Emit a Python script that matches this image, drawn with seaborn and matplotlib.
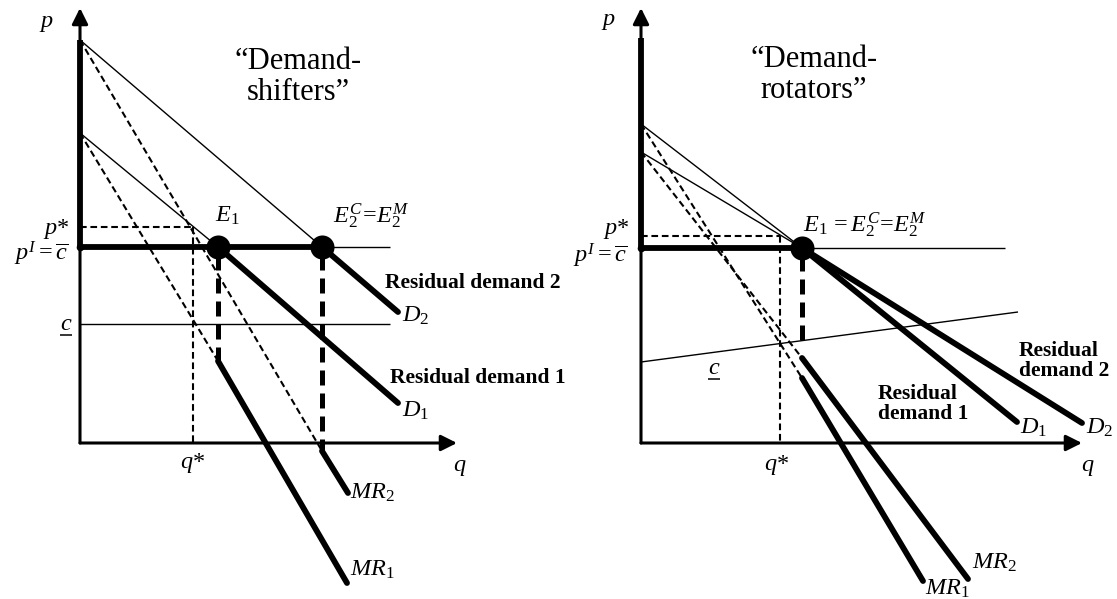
import matplotlib
matplotlib.use("Agg")
import matplotlib.pyplot as plt
import seaborn as sns

# all values in diagram units, q to the right and p upward from the axes corner

# left panel: "Demand-shifters"
sh_pbar = 196
sh_top = [403, 310]            # p-axis intercepts of D2, D1
sh_E = [242, 138]              # q of E2, E1 on the p-bar line
sh_D_end_q = [318, 318]
sh_D_end_p = [131, 40]
sh_MR_kink = [-8, 82]          # p where the solid MR starts
sh_MR_end_q = [268, 267]
sh_MR_end_p = [-50, -140]
sh_pstar, sh_qstar = 216, 113
sh_clow = 119
sh_line_end = 310
sh_qmax, sh_pmax = 377, 435

# right panel: "Demand-rotators"
ro_pbar = 195
ro_top = [319, 291]            # D1, D2
ro_E = 161
ro_D_end_q = [376, 441]
ro_D_end_p = [21, 20]
ro_MR_kink = [65, 85]
ro_MR_end_q = [282, 327]
ro_MR_end_p = [-138, -136]
ro_pstar, ro_qstar = 207, 139
ro_clow_q = [0, 377]
ro_clow_p = [81, 131]
ro_line_end = 364
ro_qmax, ro_pmax = 441, 435

sns.set_theme(style="white")
plt.rcParams["font.family"] = ["Liberation Serif", "DejaVu Serif"]
plt.rcParams["mathtext.fontset"] = "custom"
plt.rcParams["mathtext.rm"] = "Liberation Serif"
plt.rcParams["mathtext.it"] = "Liberation Serif:italic"
plt.rcParams["mathtext.bf"] = "Liberation Serif:bold"

THIN_DASH = (0, (3.2, 1.8))
THICK_DASH = (0, (3.0, 1.6))
THICK = 4.2
FS = 17.5


def seg(ax, q, p, lw=1.0, ls="-", cap="butt"):
    sns.lineplot(x=q, y=p, ax=ax, color="black", linewidth=lw, linestyle=ls,
                 sort=False, estimator=None, solid_capstyle=cap, dash_capstyle="butt")


def arrow(ax, tip):
    ax.annotate("", xy=tip, xytext=(0, 0),
                arrowprops=dict(arrowstyle="-|>", color="black", lw=2.2,
                                mutation_scale=24, shrinkA=0, shrinkB=0))


def lab(ax, q, p, s, ha="left", size=FS, **kw):
    ax.text(q, p, s, ha=ha, va="center", fontsize=size, color="black", **kw)


def under_c(ax, q, p):
    lab(ax, q, p, "$c$", ha="center")
    seg(ax, [q - 6, q + 6], [p - 11, p - 11], lw=1.1)


fig = plt.figure(figsize=(11.17, 5.99), dpi=100)
axL = fig.add_axes([0, 0, 560 / 1117, 1])
axR = fig.add_axes([560 / 1117, 0, 557 / 1117, 1])

# ---------------- left ----------------
ax = axL
arrow(ax, (0, sh_pmax))
arrow(ax, (sh_qmax, 0))
seg(ax, [0, 0], [sh_pbar, sh_top[0]], lw=THICK)
seg(ax, [0, sh_line_end], [sh_pbar, sh_pbar], lw=1.0)
seg(ax, [0, sh_E[0]], [sh_pbar, sh_pbar], lw=THICK)
seg(ax, [0, sh_line_end], [sh_clow, sh_clow], lw=1.0)
seg(ax, [0, sh_qstar], [sh_pstar, sh_pstar], lw=1.5, ls=THIN_DASH)
seg(ax, [sh_qstar, sh_qstar], [sh_pstar, 0], lw=1.5, ls=THIN_DASH)
for i in range(2):
    seg(ax, [0, sh_E[i]], [sh_top[i], sh_pbar], lw=1.0)
    seg(ax, [sh_E[i], sh_D_end_q[i]], [sh_pbar, sh_D_end_p[i]], lw=THICK, cap="round")
    seg(ax, [0, sh_E[i]], [sh_top[i], sh_MR_kink[i]], lw=1.5, ls=THIN_DASH)
    seg(ax, [sh_E[i], sh_E[i]], [sh_pbar - 8, sh_MR_kink[i]], lw=3.6, ls=THICK_DASH)
    seg(ax, [sh_E[i], sh_MR_end_q[i]], [sh_MR_kink[i], sh_MR_end_p[i]], lw=THICK, cap="round")
sns.scatterplot(x=sh_E, y=[sh_pbar] * 2, ax=ax, s=300, color="black", linewidth=0, zorder=5)
sns.scatterplot(x=[0], y=[sh_pbar], ax=ax, s=30, color="black", linewidth=0, zorder=5)

lab(ax, -34, 420, "$p$", ha="center")
lab(ax, 380, -25, "$q$", ha="center")
lab(ax, 113, -20, "$q$*", ha="center")
lab(ax, -24, 214, "$p$*", ha="center")
lab(ax, -12, 189, r"$p^I = \overline{c}$", ha="right")
under_c(ax, -14, 119)
lab(ax, 135, 227, "$E_1$")
lab(ax, 253, 227, r"$E_2^C\!=\!E_2^M$")
lab(ax, 305, 160, "Residual demand 2", size=15.5, fontweight="bold")
lab(ax, 310, 65, "Residual demand 1", size=15.5, fontweight="bold")
lab(ax, 322, 127, "$D_2$")
lab(ax, 322, 32, "$D_1$")
lab(ax, 270, -50, "$MR_2$")
lab(ax, 270, -127, "$MR_1$")
lab(ax, 218, 366, "\u201cDemand-\nshifters\u201d", ha="center", size=22, linespacing=1.1)

# ---------------- right ----------------
ax = axR
arrow(ax, (0, ro_pmax))
arrow(ax, (ro_qmax, 0))
seg(ax, [0, 0], [ro_pbar, 405], lw=THICK)
seg(ax, [0, ro_line_end], [ro_pbar, ro_pbar], lw=1.0)
seg(ax, [0, ro_E], [ro_pbar, ro_pbar], lw=THICK)
seg(ax, ro_clow_q, ro_clow_p, lw=1.0)
seg(ax, [0, ro_qstar], [ro_pstar, ro_pstar], lw=1.5, ls=THIN_DASH)
seg(ax, [ro_qstar, ro_qstar], [ro_pstar, 0], lw=1.5, ls=THIN_DASH)
for i in range(2):
    seg(ax, [0, ro_E], [ro_top[i], ro_pbar], lw=1.0)
    seg(ax, [ro_E, ro_D_end_q[i]], [ro_pbar, ro_D_end_p[i]], lw=THICK, cap="round")
    seg(ax, [0, ro_E], [ro_top[i], ro_MR_kink[i]], lw=1.5, ls=THIN_DASH)
    seg(ax, [ro_E, ro_MR_end_q[i]], [ro_MR_kink[i], ro_MR_end_p[i]], lw=THICK, cap="round")
seg(ax, [ro_E, ro_E], [ro_pbar - 8, 95], lw=3.6, ls=THICK_DASH)
sns.scatterplot(x=[ro_E], y=[ro_pbar], ax=ax, s=300, color="black", linewidth=0, zorder=5)
sns.scatterplot(x=[0], y=[ro_pbar], ax=ax, s=30, color="black", linewidth=0, zorder=5)

lab(ax, -33, 421, "$p$", ha="center")
lab(ax, 447, -25, "$q$", ha="center")
lab(ax, 136, -22, "$q$*", ha="center")
lab(ax, -25, 214, "$p$*", ha="center")
lab(ax, -14, 187, r"$p^I = \overline{c}$", ha="right")
under_c(ax, 73, 75)
lab(ax, 162, 218, r"$E_1\,{=}E_2^C\!=\!E_2^M$")
lab(ax, 378, 82, "Residual\ndemand 2", size=15.5, fontweight="bold", linespacing=1.05)
lab(ax, 237, 39, "Residual\ndemand 1", size=15.5, fontweight="bold", linespacing=1.05)
lab(ax, 379, 15, "$D_1$")
lab(ax, 445, 15, "$D_2$")
lab(ax, 331, -120, "$MR_2$")
lab(ax, 284, -146, "$MR_1$")
lab(ax, 173, 368, "\u201cDemand-\nrotators\u201d", ha="center", size=22, linespacing=1.1)

axL.set_xlim(-80, 480)
axL.set_ylim(-156, 443)
axR.set_xlim(-81, 476)
axR.set_ylim(-156, 443)
for a in (axL, axR):
    a.set_axis_off()

fig.savefig("out.png", dpi=100)
